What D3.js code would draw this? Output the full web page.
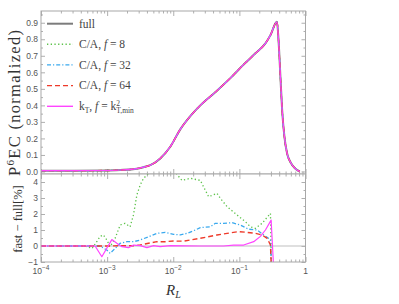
<!DOCTYPE html>
<html><head><meta charset="utf-8">
<script src="https://cdn.jsdelivr.net/npm/d3@7"></script>
<style>
html,body{margin:0;padding:0;background:#fff;}
svg{display:block;}
</style></head>
<body>
<svg id="c" width="399" height="304"></svg>
<script>
// ---------- DATA (log10 R_L, value) ----------
const fullLogR = [-4,-3.5,-3,-2.8,-2.606,-2.45,-2.348,-2.197,-2.045,-1.894,-1.742,-1.591,-1.364,-1.136,-0.94,-0.758,-0.606,-0.53,-0.432,-0.405,-0.379,-0.353,-0.318,-0.277,-0.227,-0.152,-0.086];
const fullVal  = [0.005,0.005,0.006,0.009,0.014,0.026,0.038,0.079,0.15,0.255,0.335,0.40,0.48,0.565,0.645,0.715,0.775,0.825,0.906,0.775,0.57,0.37,0.208,0.107,0.056,0.016,0.0];

const ca8LogR = [-4,-3.333,-3.227,-3.152,-3.106,-3.056,-3.005,-2.955,-2.879,-2.803,-2.727,-2.652,-2.602,-2.55,-2.5,-2.45,-2.38,-2.27,-2.12,-1.97,-1.868,-1.742,-1.591,-1.465,-1.338,-1.288,-1.186,-1.035,-0.909,-0.833,-0.758,-0.656,-0.53,-0.515];
const ca8Diff = [0,0,-0.15,0.3,0.6,0.69,0.375,-0.04,0.48,1.31,1.42,1.2,1.94,3.19,3.81,4.23,4.5,4.9,4.9,4.6,4.1,4.23,4.1,3.08,3.29,2.98,2.46,1.94,1.52,1.2,1.1,1.42,2.04,-1.5];

const ca32LogR = [-4,-3.106,-3.005,-2.955,-2.879,-2.803,-2.70,-2.60,-2.5,-2.374,-2.247,-2.121,-1.995,-1.894,-1.792,-1.667,-1.591,-1.439,-1.364,-1.238,-1.111,-0.985,-0.859,-0.732,-0.632,-0.53,-0.515];
const ca32Diff = [0,0,-0.25,-0.46,-0.15,0.17,0.27,0.27,0.375,0.58,0.79,0.85,0.73,0.69,0.79,1.0,1.15,1.2,1.42,1.42,1.46,1.31,1.05,1.0,0.69,0.4,-1.5];

const ca64LogR = [-4,-2.955,-2.803,-2.6,-2.5,-2.374,-2.247,-2.121,-1.995,-1.844,-1.742,-1.591,-1.338,-1.186,-1.011,-0.883,-0.758,-0.656,-0.58,-0.53,-0.515];
const ca64Diff = [0,0,0.02,0.02,0.06,0.17,0.27,0.27,0.31,0.3,0.375,0.48,0.69,0.79,0.9,0.85,0.79,0.69,0.48,0.06,-1.5];

const ktLogR = [-4,-3.182,-3.08,-2.929,-2.853,-2.777,-2.677,-2.6,-2.5,-2.398,-2.298,-2.197,-2.045,-1.591,-1.238,-1.086,-0.935,-0.783,-0.682,-0.606,-0.52,-0.48];
const ktDiff = [0,0,-0.67,0.4,0.17,-0.04,-0.1,0.06,0.02,-0.1,0.02,-0.04,0.02,0.0,0.0,0.06,0.06,0.27,0.6,1.0,1.62,-1.5];

const topTicks = [0,0.1,0.2,0.3,0.4,0.5,0.6,0.7,0.8,0.9];
const botTicks = [-1,0,1,2,3,4];
const xDecades = [-4,-3,-2,-1,0];

const series = [
  {name:"full", color:"#7c7c7c", width:2, dash:null, logR:fullLogR, top:fullVal, diff:null},
  {name:"ca8", color:"#5cc24a", width:1.3, dash:"1.3,2.4", logR:ca8LogR, top:fullVal, diff:ca8Diff},
  {name:"ca32", color:"#3aa9ee", width:1.3, dash:"4,2,1.2,2", logR:ca32LogR, top:fullVal, diff:ca32Diff},
  {name:"ca64", color:"#ee3a2a", width:1.4, dash:"5,3", logR:ca64LogR, top:fullVal, diff:ca64Diff},
  {name:"kt", color:"#ff44ff", width:1.2, dash:null, logR:ktLogR, top:fullVal, diff:ktDiff}
];

// ---------- LAYOUT ----------
const L = 41, R = 305.5;
const topY0 = 11, topY1 = 174, botY0 = 174, botY1 = 262;

const svg = d3.select("#c");
const x = d3.scaleLog().domain([1e-4, 1]).range([L, R]);
const yT = d3.scaleLinear().domain([-0.0152, 0.971]).range([topY1, topY0]);
const yB = d3.scaleLinear().domain([-1, 4.5]).range([botY1, botY0]);

const defs = svg.append("defs");
defs.append("clipPath").attr("id","clipT").append("rect").attr("x",L).attr("y",topY0).attr("width",R-L).attr("height",topY1-topY0);
defs.append("clipPath").attr("id","clipB").append("rect").attr("x",L).attr("y",botY0).attr("width",R-L).attr("height",botY1-botY0);

const tickColor = "#9a9a9a", frameColor = "#a8a8a8", labColor = "#555";
const sans = "'Liberation Sans', Arial, sans-serif";
const serif = "'Liberation Serif', 'Times New Roman', serif";

const minors = [];
xDecades.slice(0,-1).forEach(e => { for (let k=2;k<=9;k++) minors.push(k*Math.pow(10,e)); });
const majors = xDecades.map(e => Math.pow(10,e));

function xTicks(g, yPos, dir) {
  const axM = (dir<0 ? d3.axisBottom(x) : d3.axisTop(x)).tickValues(majors).tickSize(-5).tickFormat("");
  const axm = (dir<0 ? d3.axisBottom(x) : d3.axisTop(x)).tickValues(minors).tickSize(-2.5).tickFormat("");
  const a = g.append("g").attr("transform",`translate(0,${yPos})`).call(axM);
  const b = g.append("g").attr("transform",`translate(0,${yPos})`).call(axm);
  [a,b].forEach(s => { s.select(".domain").remove(); s.selectAll("line").attr("stroke",tickColor).attr("stroke-width",0.8); });
}
function yTicksFn(g, scale, majorVals, minorVals, xPos, side, labels, fmt) {
  const mk = side==="left" ? d3.axisLeft : d3.axisRight;
  const aM = mk(scale).tickValues(majorVals).tickSize(-4).tickPadding(3).tickFormat(labels ? fmt : "");
  const am = mk(scale).tickValues(minorVals).tickSize(-2).tickFormat("");
  const a = g.append("g").attr("transform",`translate(${xPos},0)`).call(aM);
  const b = g.append("g").attr("transform",`translate(${xPos},0)`).call(am);
  [a,b].forEach(s => { s.select(".domain").remove(); s.selectAll("line").attr("stroke",tickColor).attr("stroke-width",0.8); });
  a.selectAll("text").attr("font-family",sans).attr("font-size",8.5).attr("fill",labColor);
}

// ---------- TOP PANEL ----------
const gT = svg.append("g");
const topMinor = d3.range(0, 0.9701, 0.05).filter(v => Math.abs(v*10 - Math.round(v*10))>1e-6);
yTicksFn(gT, yT, topTicks, topMinor, L, "left", true, d3.format(".1f"));
yTicksFn(gT, yT, topTicks, topMinor, R, "right", false, null);
xTicks(gT, topY1, -1);
xTicks(gT, topY0, 1);

const lineT = d3.line().x(d=>d[0]).y(d=>d[1]).curve(d3.curveMonotoneX);
const gLinesT = gT.append("g").attr("clip-path","url(#clipT)");
series.forEach(s => {
  const pts = fullLogR.map((lr,i) => [x(Math.pow(10,lr)), yT(s.top[i])]);
  gLinesT.append("path").attr("d", lineT(pts)).attr("fill","none")
    .attr("stroke", s.color).attr("stroke-width", s.width)
    .attr("stroke-dasharray", s.dash).attr("stroke-linejoin","round");
});
gT.append("rect").attr("x",L).attr("y",topY0).attr("width",R-L).attr("height",topY1-topY0)
  .attr("fill","none").attr("stroke",frameColor).attr("stroke-width",1);

// legend
const legY = [23.7, 44.2, 64.9, 85.6, 106.3];
const leg = gT.append("g");
series.forEach((s,i) => {
  leg.append("line").attr("x1",47).attr("x2",73).attr("y1",legY[i]).attr("y2",legY[i])
    .attr("stroke",s.color).attr("stroke-width",s.name==="full"?2:1.4).attr("stroke-dasharray",s.dash);
});
function legText(i) {
  return leg.append("text").attr("x",79).attr("y",legY[i]+3.8).attr("font-family",serif)
    .attr("font-size",11.5).attr("fill","#444");
}
legText(0).text("full");
[["8",1],["32",2],["64",3]].forEach(([f,i]) => {
  const t = legText(i);
  t.append("tspan").text("C/A, ");
  t.append("tspan").attr("font-style","italic").text("f");
  t.append("tspan").text(" = " + f);
});
{
  const t = legText(4);
  t.append("tspan").text("k");
  t.append("tspan").attr("font-size",7.5).attr("dy",2.5).text("T");
  t.append("tspan").attr("dy",-2.5).text(", ");
  t.append("tspan").attr("font-style","italic").text("f");
  t.append("tspan").text(" = k");
  t.append("tspan").attr("font-size",7.5).attr("dy",-4.5).text("2");
  t.append("tspan").attr("font-size",7.5).attr("dx",-3.8).attr("dy",7.5).text("T,min");
}

// y label top
svg.append("text").attr("transform","translate(20,103) rotate(-90)").attr("text-anchor","middle")
  .attr("font-family",serif).attr("font-size",16.5).attr("fill","#333")
  .attr("textLength",146).attr("lengthAdjust","spacing")
  .call(t => {
    t.append("tspan").text("P");
    t.append("tspan").attr("font-size",11).attr("dy",-6.5).text("6");
    t.append("tspan").attr("dy",6.5).text("EC (normalized)");
  });

// ---------- BOTTOM PANEL ----------
const gB = svg.append("g");
gB.append("rect").attr("x",L).attr("y",botY0).attr("width",R-L).attr("height",botY1-botY0).attr("fill","#fff");
const botMinor = [-0.5,0.5,1.5,2.5,3.5];
yTicksFn(gB, yB, botTicks, botMinor, L, "left", true, d3.format("d"));
yTicksFn(gB, yB, botTicks, botMinor, R, "right", false, null);
xTicks(gB, botY1, -1);
xTicks(gB, botY0, 1);

gB.append("line").attr("x1",L).attr("x2",R).attr("y1",yB(0)).attr("y2",yB(0))
  .attr("stroke","#b8b8b8").attr("stroke-width",0.9);

const lineB = d3.line().x(d=>d[0]).y(d=>d[1]);
const gLinesB = gB.append("g").attr("clip-path","url(#clipB)");
series.filter(s => s.diff).forEach(s => {
  const pts = s.logR.map((lr,i) => [x(Math.pow(10,lr)), yB(s.diff[i])]);
  gLinesB.append("path").attr("d", lineB(pts)).attr("fill","none")
    .attr("stroke", s.color).attr("stroke-width", s.width)
    .attr("stroke-dasharray", s.dash).attr("stroke-linejoin","round");
});
gB.append("rect").attr("x",L).attr("y",botY0).attr("width",R-L).attr("height",botY1-botY0)
  .attr("fill","none").attr("stroke",frameColor).attr("stroke-width",1);

// x tick labels
const xl = svg.append("g");
xDecades.forEach(e => {
  const t = xl.append("text").attr("x", x(Math.pow(10,e))).attr("y", 273.5)
    .attr("text-anchor","middle").attr("font-family",sans).attr("font-size",8.5).attr("fill",labColor);
  if (e === 0) { t.text("1"); }
  else {
    t.append("tspan").text("10");
    t.append("tspan").attr("font-size",6.5).attr("dy",-3.5).text("\u2212" + (-e));
  }
});

// y label bottom
svg.append("text").attr("transform","translate(22,219) rotate(-90)").attr("text-anchor","middle")
  .attr("font-family",serif).attr("font-size",12.5).attr("fill","#333")
  .text("fast \u2212 full[%]");

// x label
svg.append("text").attr("x",166).attr("y",295).attr("font-family",serif).attr("font-size",15)
  .attr("font-style","italic").attr("fill","#333")
  .call(t => {
    t.append("tspan").text("R");
    t.append("tspan").attr("font-size",10).attr("dy",3).text("L");
  });
</script>
</body></html>
